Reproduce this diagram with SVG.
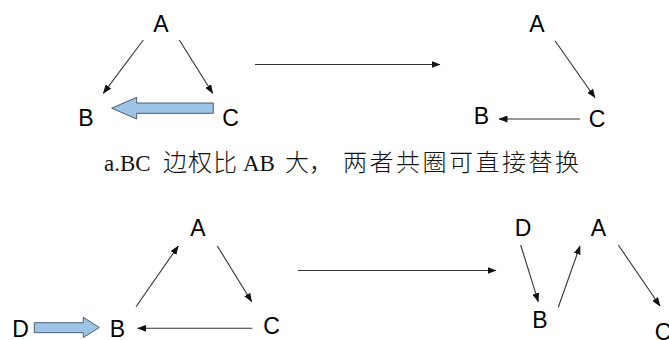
<svg xmlns="http://www.w3.org/2000/svg" width="669" height="340" viewBox="0 0 669 340">
<defs>
<style>
.lbl{font-family:"Liberation Sans",Arial,sans-serif;font-size:23px;fill:#000;text-anchor:middle}
.cap{font-family:"Liberation Serif","Noto Sans CJK SC",serif;font-size:23px;fill:#111}
.cj{font-family:"Noto Sans CJK SC","Liberation Serif",serif;font-size:24px;font-weight:300}
.e{stroke:#333;stroke-width:1.1;fill:none;marker-end:url(#ah)}
.blk{fill:#9dc3e6;stroke:#4d5d6e;stroke-width:1}
</style>
<marker id="ah" markerUnits="userSpaceOnUse" markerWidth="9" markerHeight="7" refX="8.5" refY="3.5" orient="auto">
<path d="M0,0 L9,3.5 L0,7 z" fill="#111"/>
</marker>
</defs>
<rect width="669" height="340" fill="#fff"/>
<g id="connectors">
<line class="e" x1="143.3" y1="40" x2="103.3" y2="93.3"/>
<line class="e" x1="179.3" y1="40" x2="212.7" y2="93.3"/>
<line class="e" x1="255" y1="64.5" x2="440" y2="64.5"/>
<line class="e" x1="555" y1="40.7" x2="595" y2="97.7"/>
<line class="e" x1="580" y1="119" x2="499" y2="119"/>
<line class="e" x1="136" y1="306.7" x2="178.3" y2="246"/>
<line class="e" x1="217.3" y1="246" x2="251.7" y2="301.7"/>
<line class="e" x1="252.3" y1="328.3" x2="137.7" y2="328.3"/>
<line class="e" x1="298" y1="270.5" x2="496" y2="270.5"/>
<line class="e" x1="520.7" y1="245" x2="538.3" y2="301.7"/>
<line class="e" x1="558.3" y1="307.3" x2="580" y2="246"/>
<line class="e" x1="618.3" y1="245" x2="660" y2="306"/>
<path class="blk" d="M213.3,103 L136.7,103 L136.7,97.3 L111.7,108.2 L136.7,119 L136.7,113.3 L213.3,113.3 Z"/>
<path class="blk" d="M34.3,322.7 L83.3,322.7 L83.3,317.3 L99.3,327.5 L83.3,337.5 L83.3,332.7 L34.3,332.7 Z"/>
</g>
<g id="tl-A"><text class="lbl" x="161" y="31.5">A</text></g>
<g id="tl-B"><text class="lbl" x="86" y="125.5">B</text></g>
<g id="tl-C"><text class="lbl" x="230.5" y="125.5">C</text></g>
<g id="tr-A"><text class="lbl" x="537" y="31.5">A</text></g>
<g id="tr-B"><text class="lbl" x="481.5" y="123.5">B</text></g>
<g id="tr-C"><text class="lbl" x="597" y="126.5">C</text></g>
<g id="bl-A"><text class="lbl" x="198" y="235.5">A</text></g>
<g id="bl-D"><text class="lbl" x="20.5" y="336.5">D</text></g>
<g id="bl-B"><text class="lbl" x="117.5" y="336.5">B</text></g>
<g id="bl-C"><text class="lbl" x="271.5" y="333.5">C</text></g>
<g id="br-D"><text class="lbl" x="523" y="235.5">D</text></g>
<g id="br-A"><text class="lbl" x="598.5" y="235.5">A</text></g>
<g id="br-B"><text class="lbl" x="540" y="327.5">B</text></g>
<g id="br-C"><text class="lbl" x="663" y="340">C</text></g>
<g id="caption"><text class="cap" y="171"><tspan x="104">a.BC</tspan><tspan class="cj" x="163" letter-spacing="1">边权比</tspan><tspan x="243">AB</tspan><tspan class="cj" x="285">大，</tspan><tspan class="cj" x="343" letter-spacing="2.5">两者共圈可直接替换</tspan></text></g>
</svg>
